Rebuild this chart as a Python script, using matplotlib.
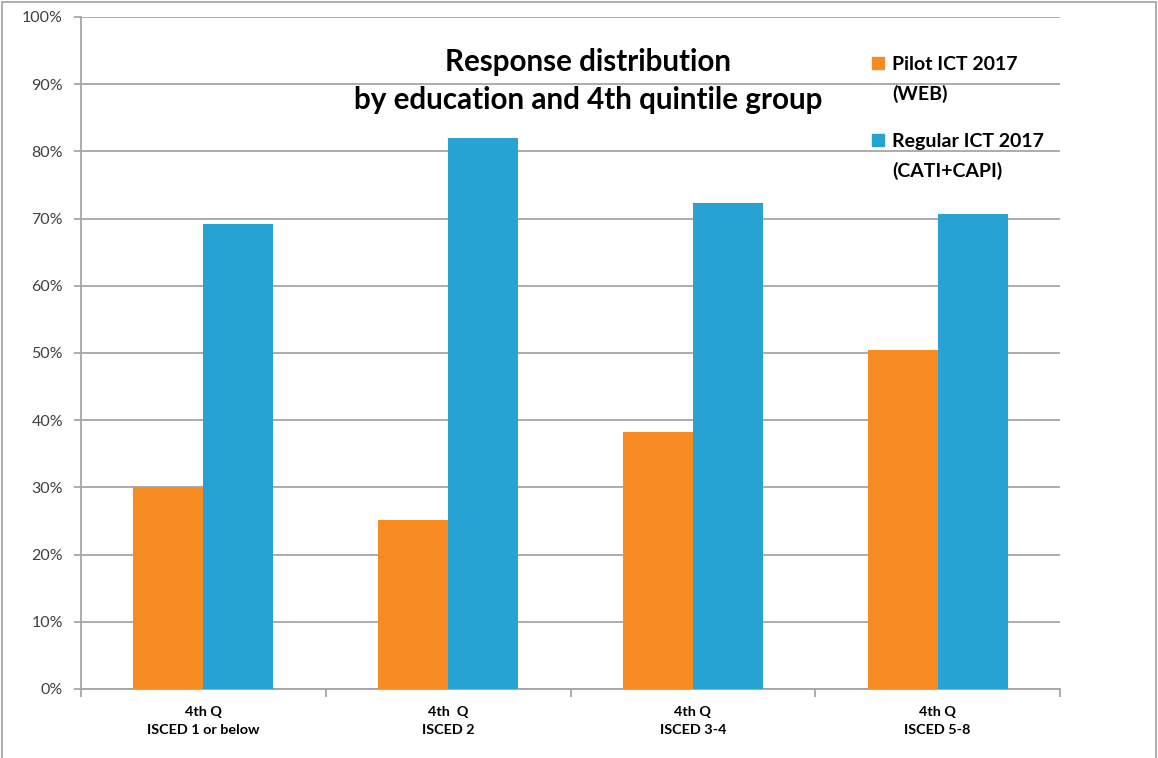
import matplotlib
matplotlib.use("Agg")
import matplotlib.pyplot as plt
from matplotlib.patches import Rectangle
from matplotlib.ticker import PercentFormatter, FixedLocator
import numpy as np

categories = ["4th Q\nISCED 1 or below", "4th  Q\nISCED 2", "4th Q\nISCED 3-4", "4th Q\nISCED 5-8"]
series_names = ["Pilot ICT 2017\n(WEB)", "Regular ICT 2017\n(CATI+CAPI)"]
pilot_web = [30.0, 25.1, 38.2, 50.5]
regular_cati_capi = [69.2, 82.0, 72.3, 70.7]
colors = ["#F88A22", "#27A3D3"]
title = "Response distribution\nby education and 4th quintile group"

plt.rcParams["font.family"] = ["Lato", "DejaVu Sans"]

W, H = 1158, 758
fig = plt.figure(figsize=(W / 100, H / 100), dpi=100)
ax = fig.add_axes([81 / W, 1 - 689 / H, (1060 - 81) / W, (689 - 17) / H])

x = np.arange(len(categories))
bw = 0.286
for i, (vals, col) in enumerate(zip([pilot_web, regular_cati_capi], colors)):
    ax.bar(x + (i - 0.5) * bw, vals, width=bw, color=col, zorder=3,
           edgecolor="none")

ax.set_xlim(-0.5, len(categories) - 0.5)
ax.set_ylim(0, 100)
ax.set_yticks(np.arange(0, 101, 10))
ax.yaxis.set_major_formatter(PercentFormatter(decimals=0))
ax.grid(axis="y", color="#A6A6A6", linewidth=1.3, zorder=0)
ax.set_axisbelow(True)

ax.set_xticks(x)
ax.set_xticklabels(categories, fontweight="bold", fontsize=10.4, linespacing=1.6)
ax.xaxis.set_minor_locator(FixedLocator(np.arange(-0.5, len(categories), 1.0)))
ax.tick_params(axis="x", which="major", length=0, pad=12, colors="#000000")
ax.tick_params(axis="x", which="minor", length=6, width=1.3, color="#A6A6A6", direction="out")
ax.tick_params(axis="y", length=5, width=1.3, color="#A6A6A6", labelsize=11.5,
               labelcolor="#404040", pad=8)

for s in ["top", "right"]:
    ax.spines[s].set_visible(False)
for s in ["left", "bottom"]:
    ax.spines[s].set_color("#A6A6A6")
    ax.spines[s].set_linewidth(1.3)

fig.text(588 / W, 1 - 81 / H, title, ha="center", va="center", fontsize=21.3,
         fontweight="bold", linespacing=1.42, color="#000000")

# legend drawn as squares with two-line labels
legend_tops = [63, 140]
for name, col, yc in zip(series_names, colors, legend_tops):
    fig.patches.append(Rectangle((872 / W, 1 - (yc + 6) / H), 12 / W, 12 / H,
                                 transform=fig.transFigure, color=col))
    fig.text(892 / W, 1 - (yc - 7) / H, name, ha="left", va="top", fontsize=14,
             fontweight="bold", linespacing=1.78, color="#000000")

# outer frame of the chart area
fig.patches.append(Rectangle((2 / W, -0.01), (1156 - 2) / W, 1 - 2 / H + 0.01,
                             transform=fig.transFigure, fill=False,
                             edgecolor="#A0A0A0", linewidth=1.2))

fig.savefig("out.png", dpi=100)
